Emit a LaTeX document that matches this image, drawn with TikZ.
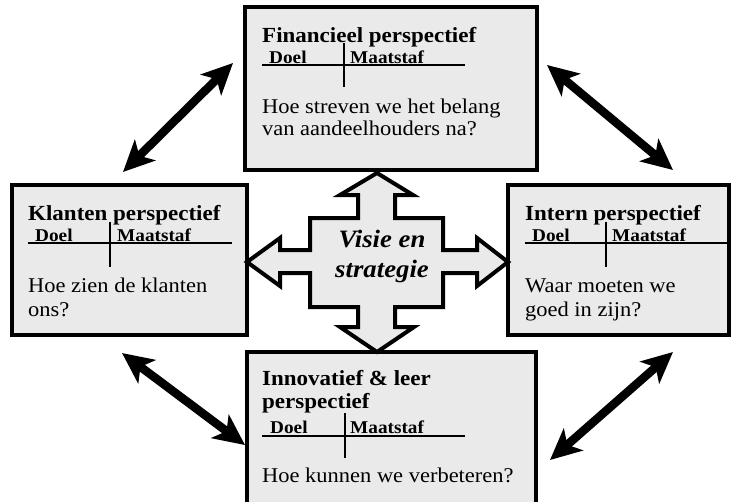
\documentclass[tikz,border=0pt]{standalone}
\usepackage{fontspec}
\setmainfont{Liberation Serif}[FakeStretch=1.07]
\usetikzlibrary{arrows.meta}
\definecolor{boxfill}{RGB}{234,234,234}
\begin{document}
\begin{tikzpicture}[x=1pt,y=-1pt,
  card/.style={draw=black,line width=4pt,fill=boxfill,line join=miter},
  ttl/.style={anchor=base west,inner sep=0pt,font=\fontsize{21.5}{24}\selectfont\bfseries},
  col/.style={anchor=base west,inner sep=0pt,font=\fontsize{18}{20}\selectfont\bfseries},
  qst/.style={anchor=base west,inner sep=0pt,font=\fontsize{21}{22}\selectfont},
  tabrule/.style={line width=1.6pt},
  dbl/.style={line width=8.5pt,{Stealth[length=31pt,width=29pt,inset=8pt]}-{Stealth[length=31pt,width=29pt,inset=8pt]}}
]
\clip (0,0) rectangle (731,501);
\fill[white] (0,0) rectangle (731,501);

% boxes
\node[card,minimum width=292pt,minimum height=163pt,inner sep=0pt] (fin) at (391,88.5) {};
\node[card,minimum width=235pt,minimum height=150pt,inner sep=0pt] (klant) at (129.5,260) {};
\node[card,minimum width=221pt,minimum height=150pt,inner sep=0pt] (intern) at (618.5,260) {};
\node[card,minimum width=289pt,minimum height=160pt,inner sep=0pt] (innov) at (391.5,432) {};

% central cross
\draw[card] (377,173) -- (413,195) -- (395,195) -- (395,218) -- (443,218) -- (443,250)
  -- (477,250) -- (477,238) -- (508,262) -- (477,286) -- (477,273) -- (443,273)
  -- (443,307) -- (395,307) -- (395,327) -- (414,327) -- (377,352) -- (340,327)
  -- (358,327) -- (358,307) -- (310,307) -- (310,273) -- (280,273) -- (280,286)
  -- (247,262) -- (280,238) -- (280,250) -- (310,250) -- (310,218) -- (358,218)
  -- (358,195) -- (340,195) -- cycle;
\node[align=center,inner sep=0pt,font=\fontsize{25}{30}\selectfont\bfseries\itshape] (visie) at (382,256) {Visie en\\strategie};

% Financieel
\node[ttl] (finT) at (262,42) {Financieel perspectief};
\node[col] (finD) at (269,63) {Doel};
\node[col] (finM) at (350,63) {Maatstaf};
\draw[tabrule] (262,65) -- (465,65);
\draw[tabrule] (344,43) -- (344,87);
\node[qst] (finQ1) at (262,113) {Hoe streven we het belang};
\node[qst] (finQ2) at (262,135) {van aandeelhouders na?};

% Klanten
\node[ttl] (klT) at (28,220) {Klanten perspectief};
\node[col] (klD) at (35,241) {Doel};
\node[col] (klM) at (117,241) {Maatstaf};
\draw[tabrule] (28,243) -- (232,243);
\draw[tabrule] (110,222) -- (110,267);
\node[qst] (klQ1) at (28,292) {Hoe zien de klanten};
\node[qst] (klQ2) at (28,316) {ons?};

% Intern
\node[ttl] (inT) at (525,220) {Intern perspectief};
\node[col] (inD) at (532,241) {Doel};
\node[col] (inM) at (612,241) {Maatstaf};
\draw[tabrule] (525,243) -- (729,243);
\draw[tabrule] (606,222) -- (606,267);
\node[qst] (inQ1) at (525,292) {Waar moeten we};
\node[qst] (inQ2) at (525,316) {goed in zijn?};

% Innovatief
\node[ttl] (ivT1) at (262,385) {Innovatief \& leer};
\node[ttl] (ivT2) at (262,408) {perspectief};
\node[col] (ivD) at (270,433) {Doel};
\node[col] (ivM) at (350,433) {Maatstaf};
\draw[tabrule] (262,436) -- (465,436);
\draw[tabrule] (345,413) -- (345,458);
\node[qst] (ivQ) at (262,482) {Hoe kunnen we verbeteren?};

% double arrows
\coordinate (tlA) at (123,172);
\coordinate (tlB) at (233,63);
\coordinate (trA) at (547,65);
\coordinate (trB) at (673,170);
\coordinate (blA) at (122,353);
\coordinate (blB) at (245,445);
\coordinate (brA) at (673,352);
\coordinate (brB) at (550,460);
\draw[dbl] (tlA) -- (tlB);
\draw[dbl] (trA) -- (trB);
\draw[dbl] (blA) -- (blB);
\draw[dbl] (brA) -- (brB);
\end{tikzpicture}
\end{document}
